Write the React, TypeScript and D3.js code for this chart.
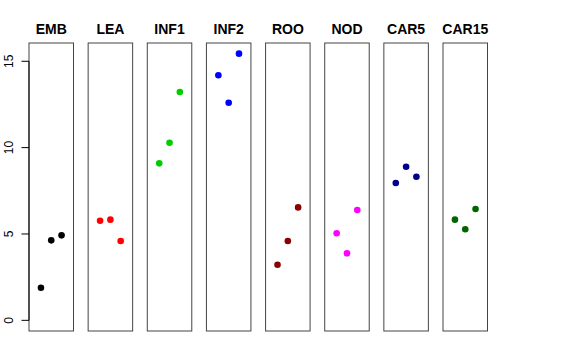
import React from "react";
import * as d3 from "d3";

const categories = ["EMB", "LEA", "INF1", "INF2", "ROO", "NOD", "CAR5", "CAR15"];
const colors = ["#000000", "#FF0000", "#00CD00", "#0000FF", "#8B0000", "#FF00FF", "#00008B", "#006400"];
const replicateX = [1, 2, 3];
const values: number[][] = [
  [1.89, 4.63, 4.92],
  [5.77, 5.83, 4.59],
  [9.09, 10.28, 13.22],
  [14.19, 12.6, 15.44],
  [3.22, 4.59, 6.54],
  [5.04, 3.88, 6.39],
  [7.95, 8.89, 8.31],
  [5.83, 5.27, 6.45],
];
const yTicks = [0, 5, 10, 15];

const W = 576;
const H = 360;
const top = 43;
const bottom = 331;

export default function App() {
  const ymax = d3.max(values.flat()) as number;
  const ext = ymax * 0.04;
  const y = d3.scaleLinear().domain([0 - ext, ymax + ext]).range([bottom, top]);
  const band = d3
    .scaleBand<string>()
    .domain(categories)
    .range([29, 487.5])
    .paddingInner(0.2476)
    .paddingOuter(0);
  const bw = band.bandwidth();
  const font = "'Liberation Sans', Arial, Helvetica, sans-serif";
  const axisX = band(categories[0]) as number;

  return (
    <svg
      width={W}
      height={H}
      style={{ position: "absolute", left: 0, top: 0, background: "#fff" }}
      fontFamily={font}
    >
      {categories.map((c, i) => {
        const x0 = band(c) as number;
        const x = d3.scaleLinear().domain([-0.16, 4.16]).range([x0, x0 + bw]);
        return (
          <g key={c}>
            <rect x={x0} y={top} width={bw} height={bottom - top} fill="none" stroke="#444" strokeWidth={1} />
            <text x={x0 + bw / 2} y={34} textAnchor="middle" fontWeight="bold" fontSize={14} fill="#000">
              {c}
            </text>
            {values[i].map((v, j) => (
              <circle key={j} cx={x(replicateX[j])} cy={y(v)} r={3.3} fill={colors[i]} />
            ))}
          </g>
        );
      })}
      <line x1={axisX} x2={axisX} y1={y(yTicks[0])} y2={y(yTicks[yTicks.length - 1])} stroke="#000" strokeWidth={1} />
      {yTicks.map((t) => (
        <g key={t}>
          <line x1={axisX - 7.5} x2={axisX} y1={y(t)} y2={y(t)} stroke="#000" strokeWidth={1} />
          <text
            transform={`translate(13,${y(t)}) rotate(-90)`}
            textAnchor="middle"
            fontSize={12}
            fill="#000"
          >
            {t}
          </text>
        </g>
      ))}
    </svg>
  );
}
